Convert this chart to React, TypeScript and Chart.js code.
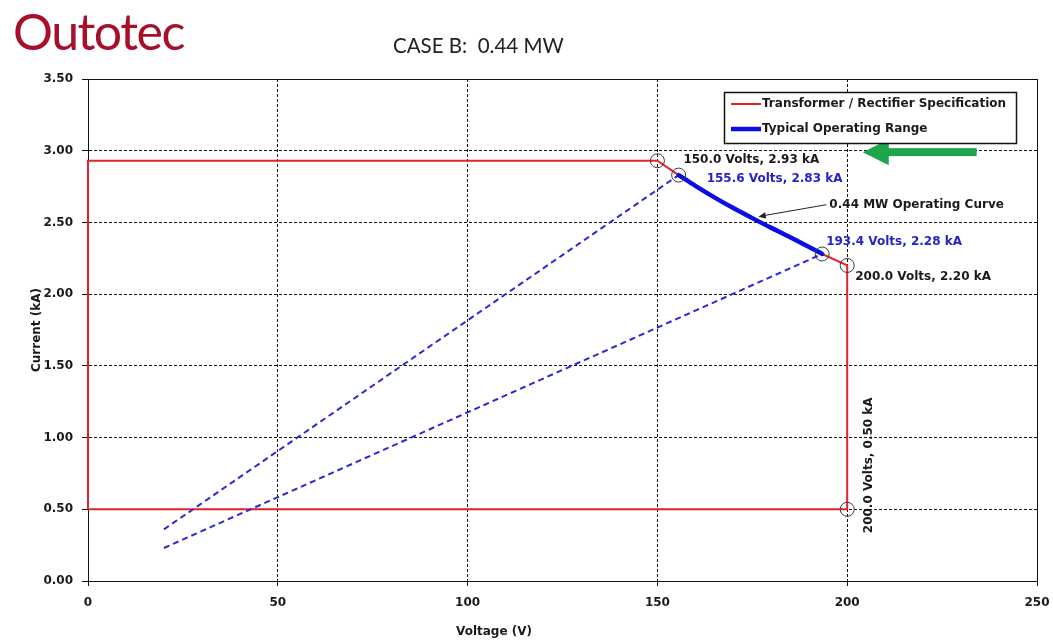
import React, { useEffect, useRef } from "react";
import { Chart, registerables } from "chart.js";

Chart.register(...registerables);

// ---------- data ----------
const xTickValues = [0, 50, 100, 150, 200, 250];
const yTickValues = [0, 0.5, 1.0, 1.5, 2.0, 2.5, 3.0, 3.5];

const specVoltage = [0, 0, 150, 155.6, 160, 165, 170, 175, 180, 185, 193.4, 200, 200, 0];
const specCurrent = [0.5, 2.93, 2.93, 2.83, 2.755, 2.675, 2.6, 2.53, 2.462, 2.397, 2.28, 2.2, 0.5, 0.5];

const rangeVoltage = [155.6, 160, 165, 170, 175, 180, 185, 193.4];
const rangeCurrent = [2.83, 2.755, 2.675, 2.6, 2.53, 2.462, 2.397, 2.28];

const loadLineAVoltage = [20, 155.6];
const loadLineACurrent = [0.36, 2.83];
const loadLineBVoltage = [20, 193.4];
const loadLineBCurrent = [0.23, 2.28];

const markerVoltage = [150, 155.6, 193.4, 200, 200];
const markerCurrent = [2.93, 2.83, 2.28, 2.2, 0.5];

const pointLabels = [
  "150.0 Volts, 2.93 kA",
  "155.6 Volts, 2.83 kA",
  "193.4 Volts, 2.28 kA",
  "200.0 Volts, 2.20 kA",
  "200.0 Volts, 0.50 kA",
];

const zip = (xs: number[], ys: number[]) => xs.map((x, i) => ({ x, y: ys[i] }));

// ---------- styles ----------
const RED = "#e2242a";
const BLUE = "#0c0ce6";
const BLUE_DASH = "#2a2ad2";
const BLUE_TEXT = "#2424c6";
const FONT = "'DejaVu Sans', Verdana, sans-serif";

// label placement (pixel offsets from the marker they describe)
const labelStyles = [
  { dx: 26, dy: -1, color: "#1a1a1a", rotate: false },
  { dx: 28, dy: 4, color: BLUE_TEXT, rotate: false },
  { dx: 4, dy: -12, color: BLUE_TEXT, rotate: false },
  { dx: 8, dy: 11, color: "#1a1a1a", rotate: false },
  { dx: 22, dy: -44, color: "#1a1a1a", rotate: true },
];

const overlayPlugin = {
  id: "overlay",
  beforeDatasetsDraw(chart: any) {
    const { ctx, chartArea } = chart;
    ctx.save();
    ctx.strokeStyle = "#111";
    ctx.lineWidth = 1;
    ctx.strokeRect(
      Math.round(chartArea.left) + 0.5,
      Math.round(chartArea.top) + 0.5,
      Math.round(chartArea.right - chartArea.left),
      Math.round(chartArea.bottom - chartArea.top)
    );
    ctx.restore();
  },
  afterDatasetsDraw(chart: any) {
    const { ctx, scales } = chart;
    const xs = scales.x;
    const ys = scales.y;
    ctx.save();
    ctx.font = `bold 12px ${FONT}`;
    ctx.textBaseline = "middle";

    // point labels
    pointLabels.forEach((t, i) => {
      const st = labelStyles[i];
      const px = xs.getPixelForValue(markerVoltage[i]) + st.dx;
      const py = ys.getPixelForValue(markerCurrent[i]) + st.dy;
      ctx.fillStyle = st.color;
      if (st.rotate) {
        ctx.save();
        ctx.translate(px, py);
        ctx.rotate(-Math.PI / 2);
        ctx.textAlign = "center";
        ctx.fillText(t, 0, 0);
        ctx.restore();
      } else {
        ctx.textAlign = "left";
        ctx.fillText(t, px, py);
      }
    });

    // operating curve callout
    const curveX = xs.getPixelForValue(176.6);
    const curveY = ys.getPixelForValue(2.54);
    const textX = curveX + 71;
    const textY = curveY - 12;
    ctx.fillStyle = "#1a1a1a";
    ctx.textAlign = "left";
    ctx.fillText("0.44 MW Operating Curve", textX, textY);
    ctx.strokeStyle = "#222";
    ctx.lineWidth = 1;
    ctx.beginPath();
    ctx.moveTo(textX - 3, textY);
    ctx.lineTo(curveX + 6, curveY - 1.2);
    ctx.stroke();
    {
      const ang = Math.atan2(curveY - textY, curveX - (textX - 3));
      ctx.beginPath();
      ctx.moveTo(curveX, curveY);
      ctx.lineTo(curveX - 8 * Math.cos(ang - 0.4), curveY - 8 * Math.sin(ang - 0.4));
      ctx.lineTo(curveX - 8 * Math.cos(ang + 0.4), curveY - 8 * Math.sin(ang + 0.4));
      ctx.closePath();
      ctx.fillStyle = "#222";
      ctx.fill();
    }

    // green arrow (points at the 2.93 kA limit)
    {
      const gy = ys.getPixelForValue(2.99);
      const tip = xs.getPixelForValue(204.1);
      const tail = xs.getPixelForValue(234.1);
      ctx.fillStyle = "#1fa54b";
      ctx.fillRect(tip + 24, gy - 4, tail - tip - 24, 8);
      ctx.beginPath();
      ctx.moveTo(tip, gy);
      ctx.lineTo(tip + 26, gy - 13);
      ctx.lineTo(tip + 26, gy + 13);
      ctx.closePath();
      ctx.fill();
    }

    // legend
    {
      const lx = 724, ly = 92, lw = 292, lh = 51;
      ctx.fillStyle = "#fff";
      ctx.fillRect(lx, ly, lw, lh);
      ctx.strokeStyle = "#111";
      ctx.lineWidth = 1.5;
      ctx.strokeRect(lx + 0.5, ly + 0.5, lw, lh);
      const items = [chart.data.datasets[4], chart.data.datasets[1]];
      items.forEach((ds: any, i: number) => {
        const yy = ly + 12 + i * 25;
        ctx.strokeStyle = ds.borderColor;
        ctx.lineWidth = ds.borderWidth;
        ctx.beginPath();
        ctx.moveTo(lx + 7, yy);
        ctx.lineTo(lx + 37, yy);
        ctx.stroke();
        ctx.fillStyle = "#1a1a1a";
        ctx.textAlign = "left";
        ctx.fillText(ds.label, lx + 38, yy);
      });
    }

    // axis titles
    ctx.fillStyle = "#1a1a1a";
    ctx.textAlign = "center";
    ctx.fillText("Voltage (V)", 494, 632);
    ctx.save();
    ctx.translate(37, 330);
    ctx.rotate(-Math.PI / 2);
    ctx.fillText("Current (kA)", 0, 0);
    ctx.restore();

    ctx.restore();
  },
};

export default function App() {
  const canvasRef = useRef<HTMLCanvasElement | null>(null);

  useEffect(() => {
    if (!canvasRef.current) return;
    const chart = new Chart(canvasRef.current, {
      type: "scatter",
      data: {
        datasets: [
          {
            label: "markers",
            data: zip(markerVoltage, markerCurrent),
            showLine: false,
            pointRadius: 7,
            pointBackgroundColor: "rgba(0,0,0,0)",
            pointBorderColor: "#3a3a3a",
            pointBorderWidth: 1,
          },
          {
            label: "Typical Operating Range",
            data: zip(rangeVoltage, rangeCurrent),
            showLine: true,
            borderColor: BLUE,
            borderWidth: 4.5,
            pointRadius: 0,
            borderCapStyle: "round",
            cubicInterpolationMode: "monotone",
          },
          {
            label: "load line A",
            data: zip(loadLineAVoltage, loadLineACurrent),
            showLine: true,
            borderColor: BLUE_DASH,
            borderWidth: 2,
            borderDash: [6, 4],
            pointRadius: 0,
          },
          {
            label: "load line B",
            data: zip(loadLineBVoltage, loadLineBCurrent),
            showLine: true,
            borderColor: BLUE_DASH,
            borderWidth: 2,
            borderDash: [6, 4],
            pointRadius: 0,
          },
          {
            label: "Transformer / Rectifier Specification",
            data: zip(specVoltage, specCurrent),
            showLine: true,
            borderColor: RED,
            borderWidth: 2,
            pointRadius: 0,
          },
        ] as any,
      },
      options: {
        animation: false,
        responsive: false,
        events: [],
        clip: false as any,
        layout: { padding: { left: 0, top: 79, right: 16, bottom: 0 } },
        plugins: { legend: { display: false }, tooltip: { enabled: false }, title: { display: false } },
        scales: {
          x: {
            type: "linear",
            min: 0,
            max: 250,
            afterFit: (s: any) => { s.height = 60; s.paddingLeft = 0; s.paddingRight = 0; },
            afterBuildTicks: (s: any) => { s.ticks = xTickValues.map((v) => ({ value: v })); },
            ticks: {
              font: { family: FONT, size: 12, weight: "bold" },
              color: "#1a1a1a",
              padding: 10,
              callback: (v: any) => String(v),
            },
            grid: {
              color: "#111",
              lineWidth: 1,
              tickLength: 5,
              tickColor: "#111",
              tickBorderDash: [],
            },
            border: { color: "#111", width: 1, dash: [3, 2] },
          },
          y: {
            type: "linear",
            min: 0,
            max: 3.5,
            afterFit: (s: any) => { s.width = 88; s.paddingTop = 0; s.paddingBottom = 0; },
            afterBuildTicks: (s: any) => { s.ticks = yTickValues.map((v) => ({ value: v })); },
            ticks: {
              font: { family: FONT, size: 12, weight: "bold" },
              color: "#1a1a1a",
              padding: 9,
              callback: (v: any) => Number(v).toFixed(2),
            },
            grid: {
              color: "#111",
              lineWidth: 1,
              tickLength: 6,
              tickColor: "#111",
              tickBorderDash: [],
            },
            border: { color: "#111", width: 1, dash: [3, 2] },
          },
        },
      } as any,
      plugins: [overlayPlugin],
    });
    return () => chart.destroy();
  }, []);

  return (
    <div style={{ position: "absolute", left: 0, top: 0, width: 1053, height: 641, background: "#fff" }}>
      <canvas ref={canvasRef} width={1053} height={641} style={{ position: "absolute", left: 0, top: 0 }} />
      <div
        style={{
          position: "absolute",
          left: 13,
          top: 6,
          fontFamily: "Lato, 'Open Sans', sans-serif",
          fontSize: 50,
          lineHeight: "50px",
          color: "#a8102a",
          whiteSpace: "pre",
          letterSpacing: "-1.5px",
        }}
      >
        Outotec
      </div>
      <div
        style={{
          position: "absolute",
          left: 393,
          top: 35,
          fontFamily: "Lato, 'Open Sans', sans-serif",
          fontSize: 20.5,
          lineHeight: "21px",
          color: "#222",
          whiteSpace: "pre",
        }}
      >
        {"CASE B:  0.44 MW"}
      </div>
    </div>
  );
}
